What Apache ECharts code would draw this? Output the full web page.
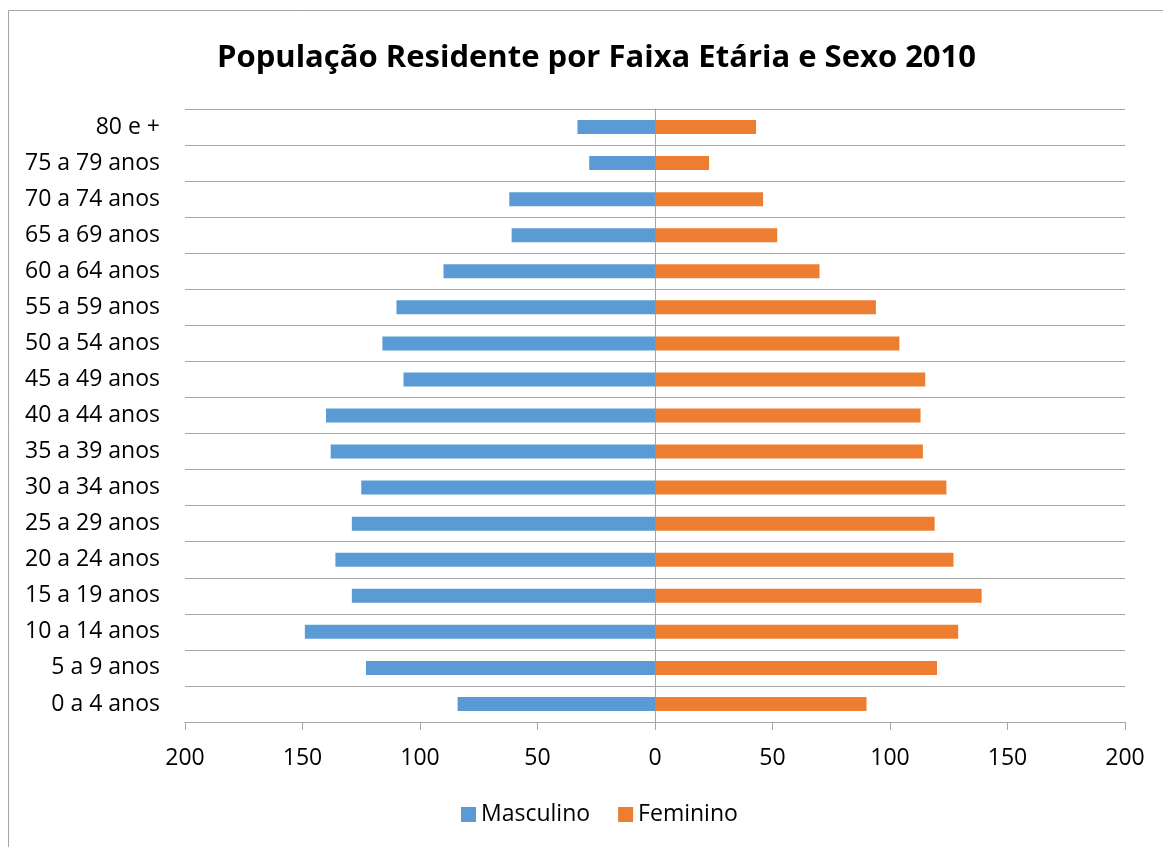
<!DOCTYPE html>
<html><head><meta charset="utf-8">
<script src="https://cdn.jsdelivr.net/npm/echarts@6/dist/echarts.min.js"></script>
<style>html,body{margin:0;padding:0;background:#fff}#c{width:1163px;height:847px}</style>
</head><body><div id="c"></div>
<script>
const categories = ["0 a 4 anos","5 a 9 anos","10 a 14 anos","15 a 19 anos","20 a 24 anos","25 a 29 anos","30 a 34 anos","35 a 39 anos","40 a 44 anos","45 a 49 anos","50 a 54 anos","55 a 59 anos","60 a 64 anos","65 a 69 anos","70 a 74 anos","75 a 79 anos","80 e +"];
const masculino = [84,123,149,129,136,129,125,138,140,107,116,110,90,61,62,28,33];
const feminino  = [90,120,129,139,127,119,124,114,113,115,104,94,70,52,46,23,43];
const title = "População Residente por Faixa Etária e Sexo 2010";

const chart = echarts.init(document.getElementById('c'));
const F = '"Open Sans", "Noto Sans", sans-serif';
chart.setOption({
  animation: false,
  title: { text: title, left: 212, top: 38,
    textStyle: { fontFamily: F, fontWeight: 'bold', fontSize: 31, color: '#000' } },
  graphic: [{ type: 'rect', shape: { x: 8.5, y: 10.5, width: 1160, height: 850 },
    style: { fill: 'none', stroke: '#A6A6A6', lineWidth: 1 }, silent: true }],
  legend: { bottom: 16, left: 456, itemWidth: 15, itemHeight: 15, itemGap: 28,
    icon: 'rect', textStyle: { fontFamily: F, fontSize: 23, color: '#000' },
    data: ['Masculino', 'Feminino'] },
  grid: { left: 185, right: 38, top: 109, bottom: 125, containLabel: false },
  xAxis: { type: 'value', min: -200, max: 200, interval: 50,
    axisLine: { show: true, lineStyle: { color: '#A6A6A6' } },
    axisTick: { show: true, length: 8, lineStyle: { color: '#A6A6A6' } },
    splitLine: { show: false },
    axisLabel: { margin: 25, fontFamily: F, fontSize: 23, color: '#000',
      formatter: v => String(Math.abs(v)) } },
  yAxis: { type: 'category', data: categories,
    axisLine: { show: true, onZero: true, lineStyle: { color: '#A6A6A6' } },
    axisTick: { show: true, length: 5, lineStyle: { color: '#A6A6A6' } },
    splitLine: { show: true, lineStyle: { color: '#A6A6A6' } },
    axisLabel: { fontFamily: F, fontSize: 23, color: '#000', margin: 25 } },
  series: [
    { name: 'Masculino', type: 'bar', stack: 'p', barWidth: 14,
      itemStyle: { color: '#5B9BD5' }, data: masculino.map(v => -v) },
    { name: 'Feminino', type: 'bar', stack: 'p', barWidth: 14,
      itemStyle: { color: '#ED7D31' }, data: feminino }
  ]
});
</script></body></html>
